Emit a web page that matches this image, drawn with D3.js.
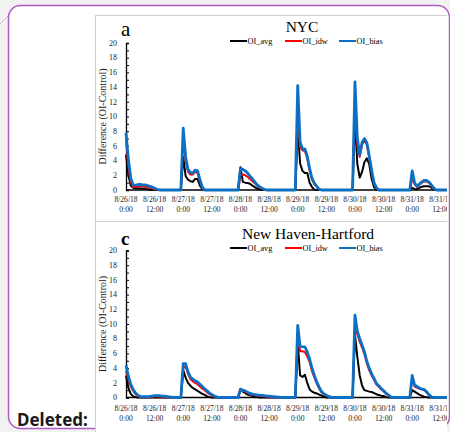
<!DOCTYPE html>
<html>
<head>
<meta charset="utf-8">
<script src="https://cdn.jsdelivr.net/npm/d3@7"></script>
<style>
  html, body { margin: 0; padding: 0; background: #f2f2f2; }
  svg { display: block; }
</style>
</head>
<body>
<svg id="chart" width="450" height="432"></svg>
<script>
// Hourly differences (OI - Control), hour 0 = 8/26/18 0:00
const tickHours = [0, 12, 24, 36, 48, 60, 72, 84, 96, 108, 120, 132];
const tickDates = ["8/26/18", "8/26/18", "8/27/18", "8/27/18", "8/28/18", "8/28/18",
                   "8/29/18", "8/29/18", "8/30/18", "8/30/18", "8/31/18", "8/31/18"];
const tickTimes = ["0:00", "12:00", "0:00", "12:00", "0:00", "12:00",
                   "0:00", "12:00", "0:00", "12:00", "0:00", "12:00"];
const yTicks = [0, 2, 4, 6, 8, 10, 12, 14, 16, 18, 20];
const seriesNames = ["OI_avg", "OI_idw", "OI_bias"];
const seriesColors = ["#000000", "#ff0000", "#0b6fc4"];

// NYC
const nycAvg = [
  4.8, 2.0, 0.6, 0.3, 0.25, 0.25, 0.2, 0.2, 0.15, 0.1, 0.05, 0, 0, 0, 0, 0, 0, 0, 0, 0, 0, 0, 0, 0,
  4.5, 1.9, 1.4, 1.2, 1.1, 1.5, 1.5, 0.6, 0.1, 0, 0, 0, 0, 0, 0, 0, 0, 0, 0, 0, 0, 0, 0, 0,
  3.1, 1.1, 1.0, 0.95, 0.85, 0.6, 0.4, 0.2, 0.05, 0, 0, 0, 0, 0, 0, 0, 0, 0, 0, 0, 0, 0, 0, 0,
  8.5, 3.6, 2.6, 2.3, 2.3, 1.0, 0.4, 0.05, 0, 0, 0, 0, 0, 0, 0, 0, 0, 0, 0, 0, 0, 0, 0, 0,
  9.5, 3.5, 1.7, 2.5, 3.8, 4.3, 3.5, 1.5, 0.4, 0, 0, 0, 0, 0, 0, 0, 0, 0, 0, 0, 0, 0, 0, 0,
  0.3, 0.15, 0.1, 0.3, 0.45, 0.5, 0.5, 0.5, 0.35, 0.05, 0, 0, 0, 0, 0, 0, 0
];
const nycIdw = [
  6.8, 3.2, 1.1, 0.4, 0.45, 0.5, 0.5, 0.5, 0.45, 0.4, 0.3, 0.2, 0.1, 0.05, 0, 0, 0, 0, 0, 0, 0, 0, 0, 0,
  7.6, 4.0, 2.5, 2.1, 2.1, 2.5, 2.3, 1.2, 0.3, 0, 0, 0, 0, 0, 0, 0, 0, 0, 0, 0, 0, 0, 0, 0,
  2.0, 2.1, 2.0, 1.8, 1.5, 1.2, 0.9, 0.6, 0.35, 0.2, 0.05, 0, 0, 0, 0, 0, 0, 0, 0, 0, 0, 0, 0, 0,
  11.0, 5.8, 5.4, 5.3, 4.3, 2.6, 1.4, 0.8, 0.4, 0.1, 0, 0, 0, 0, 0, 0, 0, 0, 0, 0, 0, 0, 0, 0,
  12.5, 6.0, 4.5, 6.2, 6.8, 6.2, 4.4, 2.5, 0.9, 0.25, 0, 0, 0, 0, 0, 0, 0, 0, 0, 0, 0, 0, 0, 0,
  1.6, 0.8, 0.4, 0.7, 1.0, 1.15, 1.15, 1.0, 0.6, 0.2, 0, 0, 0, 0, 0, 0, 0
];
const nycBias = [
  7.8, 4.2, 1.6, 0.7, 0.65, 0.75, 0.75, 0.7, 0.7, 0.6, 0.5, 0.4, 0.25, 0.1, 0, 0, 0, 0, 0, 0, 0, 0, 0, 0,
  8.4, 4.5, 2.8, 2.4, 2.3, 2.7, 2.6, 1.4, 0.4, 0, 0, 0, 0, 0, 0, 0, 0, 0, 0, 0, 0, 0, 0, 0,
  2.9, 2.8, 2.6, 2.3, 1.9, 1.5, 1.1, 0.7, 0.45, 0.25, 0.1, 0, 0, 0, 0, 0, 0, 0, 0, 0, 0, 0, 0, 0,
  14.2, 6.5, 5.6, 5.6, 4.6, 2.9, 1.6, 0.9, 0.5, 0.1, 0, 0, 0, 0, 0, 0, 0, 0, 0, 0, 0, 0, 0, 0,
  14.7, 7.0, 4.8, 6.5, 7.0, 6.4, 4.6, 2.7, 1.0, 0.3, 0, 0, 0, 0, 0, 0, 0, 0, 0, 0, 0, 0, 0, 0,
  2.6, 1.0, 0.5, 0.8, 1.1, 1.3, 1.3, 1.1, 0.7, 0.3, 0, 0, 0, 0, 0, 0, 0
];

// New Haven-Hartford
const nhhAvg = [
  3.0, 1.3, 0.5, 0.15, 0.05, 0, 0, 0, 0, 0, 0, 0, 0, 0, 0, 0, 0, 0, 0, 0, 0, 0, 0, 0,
  3.7, 2.7, 2.0, 1.6, 1.3, 1.1, 0.9, 0.7, 0.5, 0.35, 0.15, 0.05, 0, 0, 0, 0, 0, 0, 0, 0, 0, 0, 0, 0,
  1.2, 0.8, 0.6, 0.4, 0.3, 0.2, 0.1, 0.05, 0, 0, 0, 0, 0, 0, 0, 0, 0, 0, 0, 0, 0, 0, 0, 0,
  7.5, 3.0, 2.8, 3.1, 2.0, 1.1, 0.8, 0.65, 0.55, 0.4, 0.25, 0.1, 0, 0, 0, 0, 0, 0, 0, 0, 0, 0, 0, 0,
  8.6, 5.5, 3.0, 1.6, 1.0, 0.9, 0.8, 0.75, 0.6, 0.45, 0.35, 0.25, 0.2, 0.05, 0, 0, 0, 0, 0, 0, 0, 0, 0, 0,
  1.0, 0.8, 0.6, 0.4, 0.25, 0.1, 0.05, 0, 0, 0, 0, 0, 0, 0, 0, 0, 0
];
const nhhIdw = [
  3.6, 2.5, 1.5, 0.9, 0.45, 0.2, 0.1, 0.05, 0.05, 0.05, 0.1, 0.1, 0.15, 0.15, 0.15, 0.1, 0.1, 0.05, 0.05, 0, 0, 0, 0, 0,
  4.0, 4.2, 3.2, 2.5, 2.2, 2.0, 1.8, 1.5, 1.2, 1.0, 0.7, 0.45, 0.3, 0.15, 0.05, 0, 0, 0, 0, 0, 0, 0, 0, 0,
  1.1, 0.9, 0.8, 0.6, 0.45, 0.35, 0.3, 0.25, 0.2, 0.2, 0.15, 0.12, 0.1, 0.08, 0.05, 0.03, 0, 0, 0, 0, 0, 0, 0, 0,
  8.5, 6.3, 6.3, 6.2, 5.6, 4.8, 3.6, 2.7, 1.9, 1.2, 0.7, 0.4, 0.25, 0.1, 0.05, 0, 0, 0, 0, 0, 0, 0, 0, 0,
  9.6, 8.6, 7.6, 6.8, 5.9, 4.6, 3.7, 3.0, 2.4, 1.75, 1.45, 1.1, 0.85, 0.5, 0.3, 0.08, 0, 0, 0, 0, 0, 0, 0, 0,
  2.6, 1.5, 1.35, 1.2, 1.1, 1.0, 0.7, 0.35, 0.1, 0, 0, 0, 0, 0, 0, 0, 0
];
const nhhBias = [
  4.4, 2.9, 1.8, 1.1, 0.6, 0.3, 0.15, 0.1, 0.1, 0.1, 0.15, 0.2, 0.25, 0.25, 0.25, 0.2, 0.2, 0.15, 0.1, 0.05, 0, 0, 0, 0,
  4.6, 4.6, 3.5, 2.8, 2.5, 2.3, 2.1, 1.8, 1.5, 1.2, 0.9, 0.6, 0.4, 0.2, 0.1, 0, 0, 0, 0, 0, 0, 0, 0, 0,
  1.1, 1.0, 0.9, 0.7, 0.55, 0.45, 0.4, 0.35, 0.3, 0.3, 0.25, 0.2, 0.2, 0.15, 0.1, 0.08, 0.05, 0, 0, 0, 0, 0, 0, 0,
  9.8, 7.0, 6.9, 6.9, 6.2, 5.2, 4.0, 3.0, 2.1, 1.4, 0.8, 0.5, 0.3, 0.15, 0.05, 0, 0, 0, 0, 0, 0, 0, 0, 0,
  11.2, 9.0, 8.0, 7.1, 6.2, 4.9, 4.0, 3.2, 2.6, 1.9, 1.6, 1.2, 0.95, 0.6, 0.35, 0.1, 0, 0, 0, 0, 0, 0, 0, 0,
  3.0, 1.7, 1.5, 1.3, 1.15, 1.1, 0.8, 0.4, 0.1, 0, 0, 0, 0, 0, 0, 0, 0
];

const panels = [
  { letter: "a", letterBold: false, title: "NYC", series: [nycAvg, nycIdw, nycBias], y0: 190, y20: 43, letterY: 36, letterSize: 21, titleY: 32, legendY: 41, tickY: 202 },
  { letter: "c", letterBold: true, title: "New Haven-Hartford", series: [nhhAvg, nhhIdw, nhhBias], y0: 397.5, y20: 250.5, letterY: 245, letterSize: 19, titleY: 239, legendY: 248, tickY: 411 }
];

const svg = d3.select("#chart");
const serif = "'Liberation Serif', 'Times New Roman', serif";

// Comment balloon frame
svg.append("path")
  .attr("d", "M0,24 L9,15")
  .attr("stroke", "#b26ac4").attr("stroke-width", 1).attr("stroke-dasharray", "1,1.5");
svg.append("rect")
  .attr("x", 8.5).attr("y", 5.5).attr("width", 441).attr("height", 423)
  .attr("rx", 12).attr("ry", 12)
  .attr("fill", "#ffffff").attr("stroke", "#ad5cc0").attr("stroke-width", 1.5);

svg.append("text")
  .attr("x", 17).attr("y", 426)
  .attr("font-family", "'Noto Sans', 'Open Sans', sans-serif")
  .attr("font-weight", "bold").attr("font-size", 17)
  .attr("fill", "#1a1a1a")
  .text("Deleted:");

// Figure area
const defs = svg.append("defs");
defs.append("clipPath").attr("id", "figClip")
  .append("rect").attr("x", 95).attr("y", 15).attr("width", 352).attr("height", 417);

const fig = svg.append("g").attr("clip-path", "url(#figClip)");
fig.append("rect").attr("x", 95.5).attr("y", 15.5).attr("width", 360).attr("height", 430)
  .attr("fill", "#ffffff").attr("stroke", "#cfcfcf").attr("stroke-width", 1);
fig.append("line").attr("x1", 95).attr("x2", 450).attr("y1", 221.5).attr("y2", 221.5)
  .attr("stroke", "#cfcfcf").attr("stroke-width", 1);

const x = d3.scaleLinear().domain([0, 132]).range([126, 126 + 132 * 2.385]);

panels.forEach(p => {
  const y = d3.scaleLinear().domain([0, 20]).range([p.y0, p.y20]);
  const g = fig.append("g");

  // Panel letter and title
  g.append("text").attr("x", 121).attr("y", p.letterY)
    .attr("font-family", serif).attr("font-size", p.letterSize)
    .attr("font-weight", p.letterBold ? "bold" : "normal")
    .text(p.letter);
  g.append("text").attr("x", p.title === "NYC" ? 302 : 308).attr("y", p.titleY)
    .attr("text-anchor", "middle")
    .attr("font-family", serif).attr("font-size", 15.5)
    .text(p.title);

  // Legend
  const lx = [230, 285, 339];
  seriesNames.forEach((name, i) => {
    g.append("line").attr("x1", lx[i]).attr("x2", lx[i] + 17)
      .attr("y1", p.legendY).attr("y2", p.legendY)
      .attr("stroke", seriesColors[i]).attr("stroke-width", 2);
    g.append("text").attr("x", lx[i] + 17.5).attr("y", p.legendY + 2.8)
      .attr("font-family", serif).attr("font-size", 8.3)
      .text(name);
  });

  // Y axis
  const yAxis = d3.axisRight(y).tickValues(d3.range(0, 21, 1)).tickSize(3).tickFormat("");
  const ya = g.append("g").attr("transform", "translate(126,0)").call(yAxis);
  ya.select(".domain").attr("stroke", "#000").attr("stroke-width", 1.3);
  ya.selectAll(".tick line").attr("stroke", "#000").attr("stroke-width", 1);
  g.selectAll(null).data(yTicks).enter().append("text")
    .attr("x", 117).attr("y", d => y(d) + 2.7)
    .attr("text-anchor", "end")
    .attr("font-family", serif).attr("font-size", 8)
    .attr("fill", "#222")
    .text(d => d);

  g.append("text")
    .attr("transform", `translate(106,${(p.y0 + p.y20) / 2}) rotate(-90)`)
    .attr("text-anchor", "middle")
    .attr("font-family", serif).attr("font-size", 10)
    .attr("fill", "#222")
    .text("Difference (OI-Control)");

  // X axis
  g.append("line").attr("x1", 126).attr("x2", 450).attr("y1", p.y0).attr("y2", p.y0)
    .attr("stroke", "#000").attr("stroke-width", 1.3);
  const xl = g.selectAll(null).data(tickHours).enter().append("text")
    .attr("text-anchor", "middle")
    .attr("font-family", serif).attr("font-size", 7.6)
    .attr("fill", "#222");
  xl.append("tspan").attr("x", d => x(d)).attr("y", p.tickY).text((d, i) => tickDates[i]);
  xl.append("tspan").attr("x", d => x(d)).attr("y", p.tickY + 10).text((d, i) => tickTimes[i]);

  // Series lines
  const line = d3.line().x((d, i) => x(i)).y(d => y(d));
  const widths = [2, 2, 2.8];
  p.series.forEach((vals, i) => {
    g.append("path").datum(vals)
      .attr("d", line)
      .attr("fill", "none")
      .attr("stroke", seriesColors[i])
      .attr("stroke-width", widths[i])
      .attr("stroke-linejoin", "round");
  });
});
</script>
</body>
</html>
